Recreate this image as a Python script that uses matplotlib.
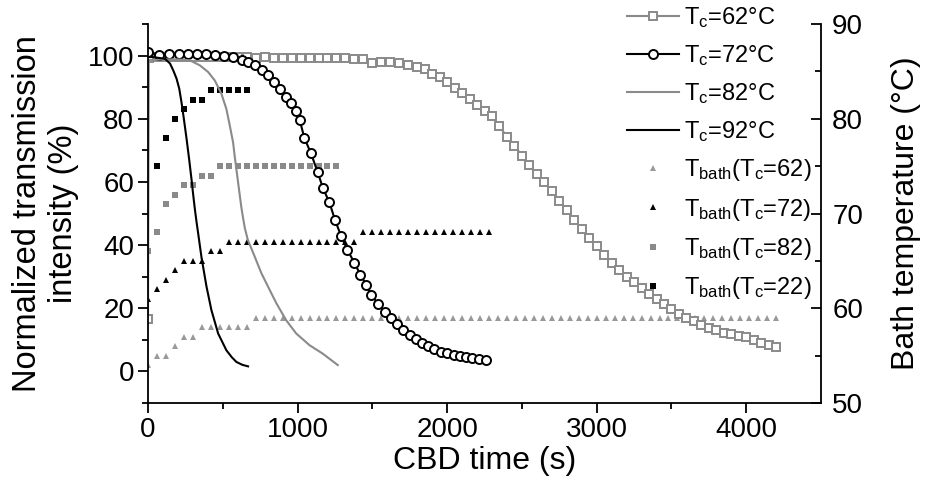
import matplotlib
matplotlib.use('Agg')
import matplotlib.pyplot as plt

plt.rcParams['font.family'] = ['Liberation Sans', 'DejaVu Sans']
plt.rcParams['mathtext.default'] = 'regular'

# data -----------------------------------
# Tc = 62 C (gray open squares)
t62 = [0, 5, 60, 120, 180, 240, 300, 360, 420, 480, 540, 600, 660, 720, 780, 840, 900, 960,
       1020, 1080, 1140, 1200, 1260, 1320, 1380, 1440, 1500, 1560, 1620, 1680, 1740, 1800,
       1850, 1900, 1950, 2000, 2050, 2100, 2150, 2200, 2250, 2300, 2350, 2400, 2450, 2500,
       2550, 2600, 2650, 2700, 2750, 2800, 2850, 2900, 2950, 3000, 3050, 3100, 3150, 3200,
       3250, 3300, 3350, 3400, 3450, 3500, 3550, 3600, 3650, 3700, 3750, 3800, 3850, 3900,
       3950, 4000, 4050, 4100, 4150, 4200]
i62 = [16.5, 99.2, 99.5, 99.5, 99.6, 99.5, 99.5, 99.5, 99.4, 99.5, 99.4, 99.4, 99.4, 99.3,
       99.4, 99.3, 99.3, 99.3, 99.3, 99.2, 99.2, 99.2, 99.1, 99.1, 99.0, 99.0, 97.6, 98.0,
       98.0, 97.7, 97.0, 96.3, 95.6, 94.3, 93.1, 91.6, 89.8, 88.2, 86.3, 84.5, 82.6, 80.8,
       77.6, 74.3, 71.5, 68.3, 65.4, 62.5, 60.0, 57.0, 54.0, 51.0, 48.0, 45.0, 42.1, 39.6,
       36.8, 34.4, 32.0, 30.0, 28.2, 26.4, 24.6, 22.8, 21.2, 19.8, 18.3, 16.9, 15.9, 14.7,
       13.7, 13.0, 12.3, 11.7, 11.2, 10.8, 9.9, 9.0, 8.3, 7.6]

# Tc = 72 C (black open circles)
t72 = [0, 75, 140, 205, 265, 330, 390, 450, 510, 567, 627, 667, 713, 760, 800, 840, 880,
       920, 955, 987, 1015, 1045, 1090, 1135, 1170, 1213, 1250, 1290, 1333, 1380, 1420,
       1460, 1493, 1540, 1587, 1627, 1667, 1707, 1753, 1793, 1833, 1873, 1913, 1960, 2000,
       2047, 2087, 2127, 2167, 2213, 2260]
i72 = [101, 100.3, 100.4, 100.4, 100.5, 100.4, 100.4, 100.2, 100, 99.6, 98.7, 98, 97, 95.5,
       94, 91.7, 89.5, 87, 85, 82.5, 79.5, 74, 69, 63, 58, 53.5, 48, 43, 38.5, 34.4, 30.6,
       27.4, 24.2, 21.3, 18.8, 16.9, 15, 13, 11.5, 10.2, 8.9, 8, 7, 6, 5.7, 5.1, 4.8, 4.5,
       4.1, 3.8, 3.5]

# Tc = 82 C (gray line)
t82 = [0, 100, 200, 280, 347, 402, 447, 491, 524, 547, 569, 580, 591, 602, 613, 624, 636,
       647, 667, 713, 758, 802, 858, 924, 991, 1080, 1169, 1269]
i82 = [98.6, 98.8, 98.8, 98.5, 96.9, 94.8, 92.1, 87.9, 83.1, 77.8, 72.5, 68, 64, 60, 56, 52,
       48.5, 45.5, 41.7, 36.4, 31.1, 26.9, 21.6, 16.2, 12.0, 8.3, 5.6, 2.0]

# Tc = 92 C (black line)
t92 = [0, 20, 113, 147, 169, 191, 209, 224, 240, 258, 275, 291, 302, 313, 324, 336, 358,
       391, 424, 469, 524, 560, 591, 630, 669]
i92 = [99.5, 99.6, 99.0, 97.5, 95.3, 92.7, 89.5, 85.2, 79.9, 73.6, 67.2, 60.8, 56, 51.5,
       47.5, 43.5, 36, 26.9, 19.4, 12.0, 6.7, 4.5, 3.0, 2.1, 1.6]

# bath temperatures (right axis)
tb62 = [0, 60, 120, 180, 240, 300, 360, 420, 480, 540, 600, 660, 720, 780, 840, 900, 960,
        1020, 1080, 1140, 1200, 1260, 1320, 1380, 1440, 1500, 1560, 1620, 1680, 1740, 1800,
        1860, 1920, 1980, 2040, 2100, 2160, 2220, 2280, 2340, 2400, 2460, 2520, 2580, 2640,
        2700, 2760, 2820, 2880, 2940, 3000, 3060, 3120, 3180, 3240, 3300, 3360, 3420, 3480,
        3540, 3600, 3660, 3720, 3780, 3840, 3900, 3960, 4020, 4080, 4140, 4200]
Tb62 = [54, 55, 55, 56, 57, 57, 58, 58, 58, 58, 58, 58] + [59] * 59

tb72 = [0, 60, 120, 180, 240, 300, 360, 420, 480, 540, 600, 660, 720, 780, 840, 900, 960,
        1020, 1080, 1140, 1200, 1260, 1320, 1380, 1440, 1500, 1560, 1620, 1680, 1740, 1800,
        1860, 1920, 1980, 2040, 2100, 2160, 2220, 2280]
Tb72 = [61, 62, 63, 64, 65, 65, 65, 66, 66] + [67] * 15 + [68] * 15

tb82 = [0, 60, 120, 180, 240, 300, 360, 420, 480, 540, 600, 660, 720, 780, 840, 900, 960,
        1020, 1080, 1140, 1200, 1260]
Tb82 = [66, 68, 71, 72, 73, 73, 74, 74] + [75] * 14

tb92 = [60, 120, 180, 240, 300, 360, 420, 480, 540, 600, 660]
Tb92 = [75, 78, 80, 81, 82, 82, 83, 83, 83, 83, 83]

gray = '#8a8a8a'

# GRAPH -----------------------------------
fig = plt.figure(figsize=(9.25, 4.87), dpi=100)
ax = fig.add_axes([0.16, 0.1725, 0.7276, 0.7782])
ax2 = ax.twinx()
ax.set_zorder(ax2.get_zorder() + 1)
ax.patch.set_visible(False)

h1, = ax.plot(t62, i62, color=gray, lw=1.5, marker='s', ms=6, mfc='white', mec=gray,
              mew=1.4, label=r'T$_c$=62°C')
h2, = ax.plot(t72, i72, color='black', lw=1.5, marker='o', ms=6.5, mfc='white', mec='black',
              mew=1.4, label=r'T$_c$=72°C')
h3, = ax.plot(t82, i82, color=gray, lw=1.5, label=r'T$_c$=82°C')
h4, = ax.plot(t92, i92, color='black', lw=1.5, label=r'T$_c$=92°C')

h5, = ax2.plot(tb62, Tb62, ls='none', marker='^', ms=4.5, color='#999999', mew=0,
               label=r'T$_{bath}$(T$_c$=62)')
h6, = ax2.plot(tb72, Tb72, ls='none', marker='^', ms=4.5, color='black', mew=0,
               label=r'T$_{bath}$(T$_c$=72)')
h7, = ax2.plot(tb82, Tb82, ls='none', marker='s', ms=4, color=gray, mew=0,
               label=r'T$_{bath}$(T$_c$=82)')
h8, = ax2.plot(tb92, Tb92, ls='none', marker='s', ms=4, color='black', mew=0,
               label=r'T$_{bath}$(T$_c$=22)')

ax.set_xlim(0, 4500)
ax.set_ylim(-10, 110)
ax2.set_ylim(50, 90)
ax.set_xticks([0, 1000, 2000, 3000, 4000])
ax.set_xticks(range(500, 4500, 1000), minor=True)
ax.set_yticks([0, 20, 40, 60, 80, 100])
ax.set_yticks([-10, 10, 30, 50, 70, 90, 110], minor=True)
ax2.set_yticks([50, 60, 70, 80, 90])
ax2.set_yticks([55, 65, 75, 85], minor=True)

for a in (ax, ax2):
    a.spines['top'].set_visible(False)
    for s in a.spines.values():
        s.set_linewidth(1.3)
ax.spines['right'].set_visible(False)
ax2.spines['left'].set_visible(False)
ax2.spines['bottom'].set_visible(False)

ax.tick_params(which='major', direction='out', length=7, width=1.3, labelsize=20, pad=3)
ax.tick_params(which='minor', direction='out', length=4, width=1.3)
ax2.tick_params(which='major', direction='in', length=7, width=1.3, labelsize=20, pad=8)
ax2.tick_params(which='minor', direction='in', length=4, width=1.3)

ax.set_xlabel('CBD time (s)', fontsize=23, labelpad=2)
ax.set_ylabel('Normalized transmission\nintensity (%)', fontsize=23.5, labelpad=6,
              linespacing=1.2)
ax2.set_ylabel('Bath temperature (°C)', fontsize=23, labelpad=20)

ax.legend(handles=[h1, h2, h3, h4, h5, h6, h7, h8], loc='upper left',
          bbox_to_anchor=(0.678, 0.99), bbox_transform=fig.transFigure, frameon=False,
          fontsize=17, handlelength=2.2, handletextpad=0.2, labelspacing=0.56,
          numpoints=1, borderaxespad=0, borderpad=0)

plt.savefig('out.png', dpi=100)
